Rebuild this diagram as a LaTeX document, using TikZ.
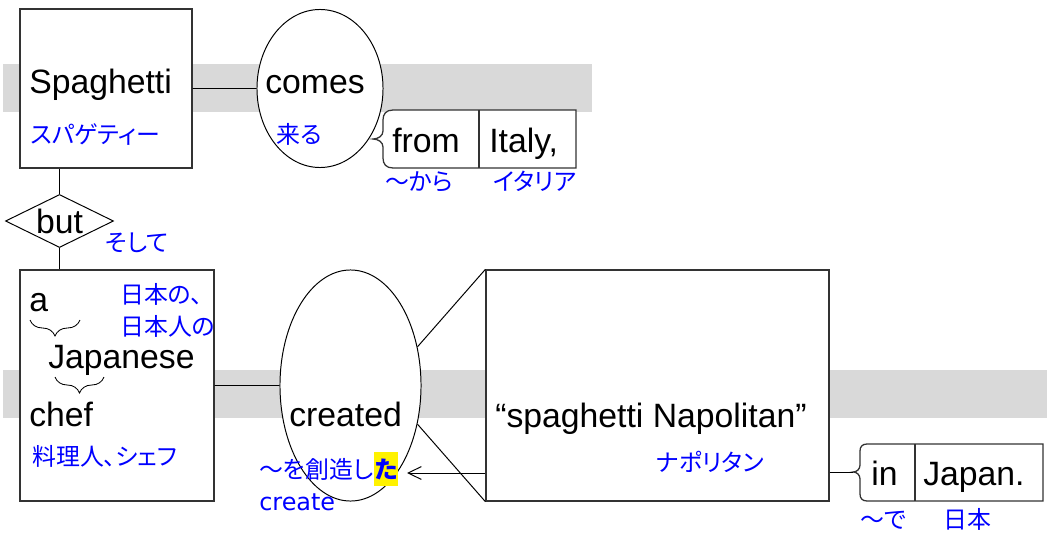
\documentclass[tikz,border=0pt]{standalone}
\usepackage{fontspec}
\setmainfont{Liberation Sans}
\newfontfamily\jpfont{Noto Sans CJK JP}[RawFeature=+palt]
\newfontfamily\glossfont{DejaVu Sans}
\usetikzlibrary{
  arrows.meta,
  calc,
  shapes.geometric,
  fit,
  decorations.pathreplacing,
  positioning}
\definecolor{glossblue}{RGB}{0,0,255}
\definecolor{bandgray}{RGB}{217,217,217}
\tikzset{
  wordbox/.style={%
    fill=white,
    draw=black!80, line width=0.9pt,
    inner sep=0pt
  },
  verb/.style={%
    shape=ellipse,
    fill=white,
    draw=black, line width=0.7pt,
    inner sep=0pt
  },
  bracebox/.style={%
    fill=white,
    draw=black!80, line width=0.9pt
  },
  word/.style={%
    anchor=base west, inner sep=0pt,
    font=\fontsize{24}{28}\selectfont
  },
  gloss/.style={%
    anchor=base west, inner sep=0pt, text=glossblue,
    font=\jpfont\fontsize{17}{20}\selectfont
  },
  link/.style={line width=0.7pt},
  arrowL/.style={%
    line width=0.7pt, {Straight Barb[length=3.3mm,width=3.2mm]}-
  },
  underbrace/.style={%
    line width=0.6pt,
    decorate, decoration={brace, mirror, amplitude=0.4cm}
  }
}

\begin{document}
\begin{tikzpicture}[x=0.025cm, y=-0.025cm]
\useasboundingbox (0,0) rectangle (1047,533);

% Gray bands behind the main line of each sentence.
\fill[bandgray] (3,64) rectangle (592,112);
\fill[bandgray] (3,370) rectangle (1047,418);

% First sentence.
\node[wordbox, fit={(20,9) (192,168)}] (spag) {};
\node[verb, minimum width=3.15cm, minimum height=3.95cm] at (320,88.5) (comes) {};
\draw[bracebox] (576,110) -- (393,110) .. controls (386,110) and (383,114) .. (383,120)
  -- (383,131) .. controls (383,136) and (378,139) .. (373,139)
  .. controls (378,139) and (383,142) .. (383,147) -- (383,158)
  .. controls (383,164) and (386,168) .. (393,168) -- (576,168) -- cycle;
\draw[bracebox] (479,110) -- (479,168);

\node[word] at (29,93) (spagTxt) {Spaghetti};
\node[gloss] at (30,143) (spagJp) {スパゲティー};
\node[word] at (265,93) (comesTxt) {comes};
\node[gloss] at (276,143) (comesJp) {来る};
\node[word] at (392,152) (fromTxt) {from};
\node[word] at (489,152) (italyTxt) {Italy,};
\node[gloss] at (385,190) (fromJp) {～から};
\node[gloss] at (493,190) (italyJp) {イタリア};

\draw[link] (spag) -- (comes);

% Conjunction.
\node[shape=diamond, draw=black, fill=white, line width=0.7pt, aspect=1.66,
  minimum width=2.7cm, inner sep=0pt, font=\fontsize{24}{28}\selectfont]
  at (59.5,221) (but) {but};
\node[gloss] at (105,251) (butJp) {そして};

% Second sentence.
\node[wordbox, fit={(20,270) (214,501)}] (chef) {};
\node[verb, minimum width=3.525cm, minimum height=5.775cm] at (350.5,385.5) (created) {};
\node[wordbox, fit={(486,270) (829,501)}] (napol) {};
\draw[bracebox] (1043,444) -- (867,444) .. controls (862,444) and (860,447) .. (860,451)
  -- (860,465) .. controls (860,469) and (857,472) .. (853,472)
  .. controls (857,472) and (860,475) .. (860,479) -- (860,494)
  .. controls (860,498) and (862,501) .. (867,501) -- (1043,501) -- cycle;
\draw[bracebox] (915,444) -- (915,501);

\node[word] at (29,311) (aTxt) {a};
\node[word] at (48,368) (japaneseTxt) {Japanese};
\node[word] at (29,426) (chefTxt) {chef};
\node[gloss] at (32,465) (chefJp) {料理人、シェフ};
\node[gloss] at (120,303) (japaneseJp) {日本の、};
\node[gloss] at (120,335) (japaneseJpB) {日本人の};
\draw[underbrace] (30,320) -- (80,320);
\draw[underbrace] (55,377) -- (104,377);

\node[word] at (289,426) (createdTxt) {created};
\node[gloss] at (259,478) (createdJp) {～を創造し};
\node[gloss, fill=yellow, inner ysep=4.5pt, inner xsep=0.5pt,
  font=\jpfont\bfseries\fontsize{17}{20}\selectfont]
  at (createdJp.base east) (taTxt) {た};
\node[gloss, font=\glossfont\fontsize{17}{20}\selectfont] at (259,510) (createJp) {create};

\node[word] at (495,427) (napolTxt) {“spaghetti Napolitan”};
\node[gloss] at (656,471) (napolJp) {ナポリタン};

\node[word] at (871,485) (inTxt) {in};
\node[word] at (923,485) (japanTxt) {Japan.};
\node[gloss] at (860,528) (inJp) {～で};
\node[gloss] at (943,528) (japanJp) {日本};

\draw[link] (but.north) -- (but.north |- spag.south);
\draw[link] (but.south) -- (but.south |- chef.north);
\draw[link] (chef) -- (created);
\draw[link] (created.30) -- (napol.north west);
\draw[link] (created.-30) -- (napol.south west);

\coordinate (taTip) at (407,473);
\draw[arrowL] (taTip) -- (taTip -| napol.west);
\coordinate (inTip) at (853,472);
\draw[link] (napol.east |- inTip) -- (inTip);

\end{tikzpicture}
\end{document}
